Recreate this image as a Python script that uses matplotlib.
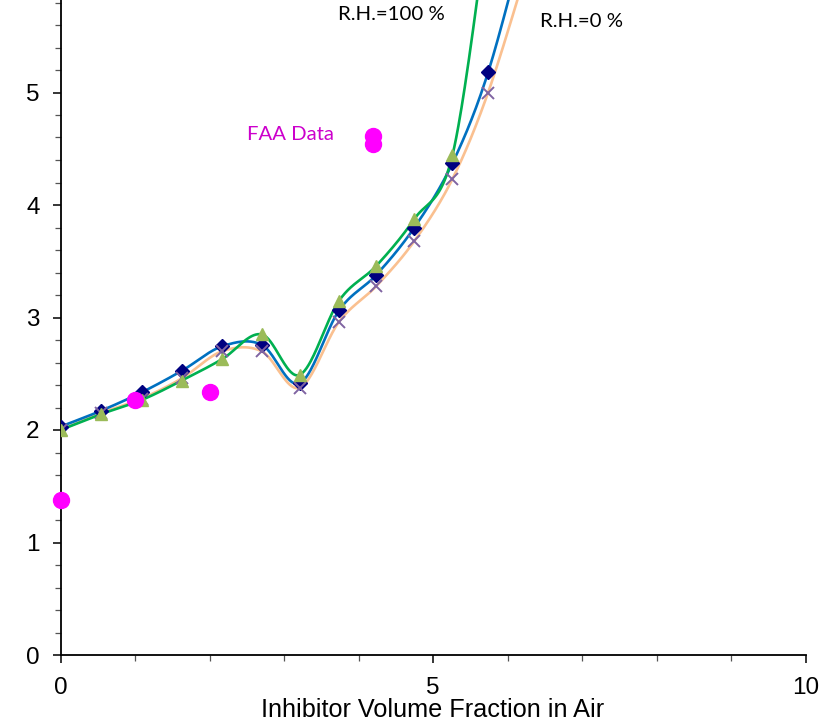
import numpy as np
import matplotlib
matplotlib.use("Agg")
import matplotlib.pyplot as plt
from matplotlib.ticker import MultipleLocator

# inhibitor volume fraction (%) at each computed point
frac = [0.0, 0.54, 1.09, 1.63, 2.17, 2.70, 3.21, 3.74, 4.24, 4.75, 5.26, 5.74, 6.26]

# flammability ratio for three humidity cases
rh_mid = [2.03, 2.17, 2.335, 2.527, 2.744, 2.758, 2.415, 3.064, 3.38, 3.80, 4.37, 5.18, 6.45]
rh_0 = [2.00, 2.15, 2.28, 2.46, 2.70, 2.70, 2.376, 2.963, 3.28, 3.68, 4.23, 5.00, 6.10]
frac_100 = [0.0, 0.54, 1.09, 1.63, 2.17, 2.70, 3.21, 3.74, 4.24, 4.75, 5.26, 5.74]
rh_100 = [2.00, 2.14, 2.267, 2.44, 2.63, 2.85, 2.49, 3.15, 3.46, 3.876, 4.44, 6.55]

# FAA measurements
faa_x = [0.0, 1.0, 2.0, 4.2, 4.2]
faa_y = [1.38, 2.27, 2.34, 4.61, 4.54]


def smooth(xs, ys, n=40):
    """Catmull-Rom style bezier smoothing through the points (like a spreadsheet smoothed line)."""
    p = np.column_stack([xs, ys]).astype(float)
    p = np.vstack([p[0], p, p[-1]])
    out = []
    t = np.linspace(0, 1, n)[:, None]
    for i in range(1, len(p) - 2):
        p0, p1, p2, p3 = p[i - 1], p[i], p[i + 1], p[i + 2]
        c1 = p1 + (p2 - p0) / 6.0
        c2 = p2 - (p3 - p1) / 6.0
        seg = ((1 - t) ** 3) * p1 + 3 * ((1 - t) ** 2) * t * c1 + 3 * (1 - t) * t ** 2 * c2 + t ** 3 * p2
        out.append(seg)
    seg = np.vstack(out)
    return seg[:, 0], seg[:, 1]


W, H = 832, 723
fig = plt.figure(figsize=(W / 100, H / 100), dpi=100)
x0, x1 = 60.5, 805.5
y0 = 655.0
ytop = 5.84
py_per = 112.5
ax = fig.add_axes([x0 / W, (H - y0) / H, (x1 - x0) / W, ytop * py_per / H])

lw = 1.9
sx, sy = smooth(frac, rh_0)
ax.plot(sx, sy, color="#FAC090", lw=lw, zorder=2)
sx, sy = smooth(frac, rh_mid)
ax.plot(sx, sy, color="#0070C0", lw=lw, zorder=3)
sx, sy = smooth(frac_100, rh_100)
ax.plot(sx, sy, color="#00B050", lw=lw, zorder=4)

ax.plot(frac, rh_mid, ls="none", marker="D", ms=7.5, color="#000080", zorder=5)
ax.plot(frac, rh_0, ls="none", marker="x", ms=8, mew=1.4, color="#8064A2", zorder=6)
ax.plot(frac_100, rh_100, ls="none", marker="^", ms=9, color="#9BBB59", zorder=7)
ax.plot(faa_x, faa_y, ls="none", marker="o", ms=11.5, color="#FF00FF", zorder=8, clip_on=False)

ax.set_xlim(0, 10)
ax.set_ylim(0, ytop)
ax.xaxis.set_major_locator(MultipleLocator(5))
ax.xaxis.set_minor_locator(MultipleLocator(1))
ax.yaxis.set_major_locator(MultipleLocator(1))
ax.yaxis.set_minor_locator(MultipleLocator(0.2))

for s in ("top", "right"):
    ax.spines[s].set_visible(False)
for s in ("left", "bottom"):
    ax.spines[s].set_linewidth(1.3)

tick_font = "Liberation Sans"
ax.tick_params(which="major", direction="out", length=6, width=1.1, labelsize=17.5)
ax.tick_params(which="minor", direction="out", length=4, width=0.9, color="#555555")
for lab in ax.get_xticklabels() + ax.get_yticklabels():
    lab.set_fontfamily(tick_font)
ax.tick_params(axis="x", which="major", pad=10)
ax.tick_params(axis="y", which="major", pad=9)

ax.set_xlabel("Inhibitor Volume Fraction in Air", fontfamily=tick_font, fontsize=18.2, labelpad=-1)

ann = "Lato"
ax.text(3.725, 5.69, "R.H.=100 %", fontfamily=ann, fontsize=14.7, va="center", ha="left")
ax.text(6.436, 5.63, "R.H.=0 %", fontfamily=ann, fontsize=14.7, va="center", ha="left")
ax.text(2.503, 4.63, "FAA Data", fontfamily=ann, fontsize=14.6, va="center", ha="left", color="#CC00CC")

fig.savefig("out.png", dpi=100)
